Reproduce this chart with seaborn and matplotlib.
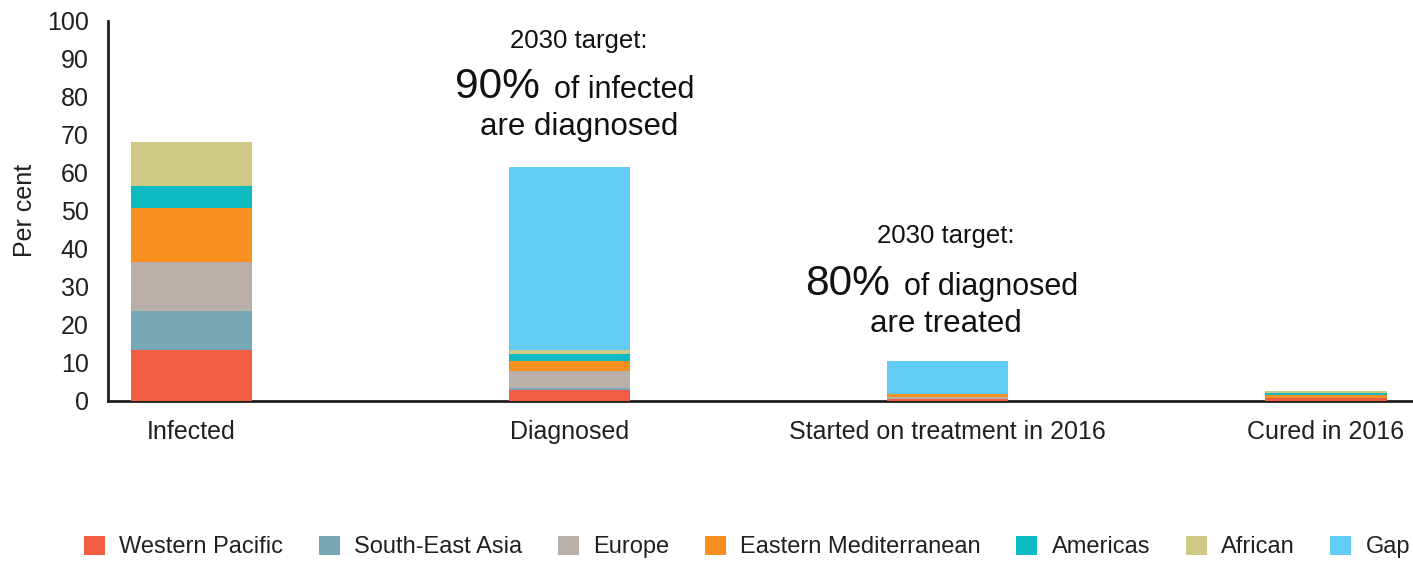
import matplotlib
matplotlib.use("Agg")
import matplotlib.pyplot as plt
import seaborn as sns
import numpy as np
from matplotlib.patches import Patch

# ---- data ----
stages = ["Infected", "Diagnosed", "Started on treatment in 2016", "Cured in 2016"]
regions = ["Western Pacific", "South-East Asia", "Europe", "Eastern Mediterranean",
           "Americas", "African", "Gap"]
western_pacific = [13.5, 3.0, 0.45, 0.7]
south_east_asia = [10.3, 0.5, 0.05, 0.05]
europe = [12.9, 4.5, 0.45, 0.05]
eastern_med = [14.1, 2.4, 0.9, 0.8]
americas = [5.8, 2.1, 0.05, 0.5]
african = [11.6, 0.8, 0.05, 0.5]
gap = [0.0, 48.3, 8.6, 0.0]
colors = ["#F15D42", "#79A7B5", "#B7AFA8", "#F7901F", "#0BBBC1", "#CEC985", "#62CCF6"]
yticks = [0, 10, 20, 30, 40, 50, 60, 70, 80, 90, 100]

series = [western_pacific, south_east_asia, europe, eastern_med, americas, african, gap]

W, H = 1413, 561
sns.set_theme(style="white")
plt.rcParams["font.family"] = ["Liberation Sans", "DejaVu Sans"]

fig = plt.figure(figsize=(W / 100, H / 100), dpi=100)
ax = fig.add_axes([108 / W, 1 - 401 / H, 1 - 108 / W, (401 - 21) / H])

cum = np.cumsum(np.array(series), axis=0)
for i in range(len(series) - 1, -1, -1):
    sns.barplot(x=stages, y=cum[i], order=stages, color=colors[i], saturation=1,
                width=0.32, errorbar=None, ax=ax, zorder=3, linewidth=0)

ax.set_xlim(-0.22, 3.23)
ax.set_ylim(0, 100)
ax.set_yticks(yticks)
ax.set_yticklabels([str(t) for t in yticks])
ax.tick_params(axis="both", length=0, labelsize=18, colors="#231F20")
ax.tick_params(axis="y", pad=14)
ax.tick_params(axis="x", pad=14)
ax.set_xlabel("")
ax.set_ylabel("")
for s in ["top", "right"]:
    ax.spines[s].set_visible(False)
for s in ["left", "bottom"]:
    ax.spines[s].set_color("#231F20")
    ax.spines[s].set_linewidth(2)
    ax.spines[s].set_zorder(2)

def px(x, y):
    return x / W, 1 - y / H

fig.text(*px(25, 210), "Per cent", rotation=90, ha="center", va="center",
         fontsize=18, color="#231F20")

tc = "#111111"
# first annotation
fig.text(*px(579, 48), "2030 target:", ha="center", va="baseline", fontsize=18.5, color=tc)
fig.text(*px(540, 98), "90%", ha="right", va="baseline", fontsize=30.5, color=tc)
fig.text(*px(554, 98), "of infected", ha="left", va="baseline", fontsize=22, color=tc)
fig.text(*px(579, 135), "are diagnosed", ha="center", va="baseline", fontsize=22.5, color=tc)
# second annotation
fig.text(*px(946, 243), "2030 target:", ha="center", va="baseline", fontsize=18.5, color=tc)
fig.text(*px(890, 295), "80%", ha="right", va="baseline", fontsize=30.5, color=tc)
fig.text(*px(904, 295), "of diagnosed", ha="left", va="baseline", fontsize=22, color=tc)
fig.text(*px(946, 332), "are treated", ha="center", va="baseline", fontsize=22.5, color=tc)

handles = [Patch(facecolor=c, edgecolor="none") for c in colors]
fig.legend(handles, regions, loc="center left", bbox_to_anchor=px(84, 547), ncol=7,
           frameon=False, fontsize=17, handlelength=0.9, handleheight=0.9,
           handletextpad=0.6, columnspacing=1.5, borderpad=0, borderaxespad=0,
           labelcolor="#231F20")

fig.savefig("out.png", dpi=100)
